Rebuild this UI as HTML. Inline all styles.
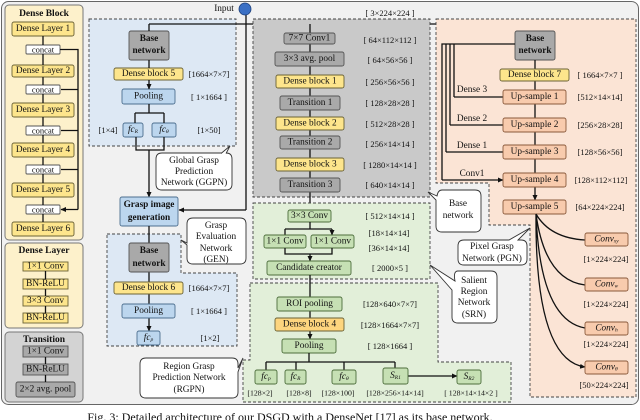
<!DOCTYPE html>
<html><head><meta charset="utf-8"><style>
html,body{margin:0;padding:0;background:#fff;}
svg{display:block;font-family:"Liberation Serif",serif;}
.t{font-size:9.3px;text-anchor:middle;dominant-baseline:central;fill:#111;}
.b{font-weight:bold;}
.l{stroke:#111;stroke-width:1.3;fill:none;}
.dim{font-size:8.5px;text-anchor:middle;dominant-baseline:central;fill:#111;}
.yel{fill:#fde58c;stroke:#6b6236;stroke-width:0.9;}
.gry{fill:#a9a9a9;stroke:#555;stroke-width:0.9;}
.blu{fill:#bcd6ee;stroke:#4d6f8f;stroke-width:0.9;}
.grn{fill:#c6e0b4;stroke:#4d6e3c;stroke-width:0.9;}
.org{fill:#f8cbad;stroke:#8a5a3c;stroke-width:0.9;}
.wht{fill:#fff;stroke:#555;stroke-width:0.9;}
.dash{stroke:#444;stroke-width:0.9;stroke-dasharray:3,2;}
.co{fill:#fff;stroke:#333;stroke-width:0.9;}
</style></head><body>
<svg width="640" height="420" viewBox="0 0 640 420">
<defs><marker id="a" markerWidth="6" markerHeight="6" refX="5" refY="3" orient="auto" markerUnits="userSpaceOnUse"><path d="M0,0.5 L5.5,3 L0,5.5z" fill="#111"/></marker></defs>
<rect x="1.5" y="1.5" width="637" height="403" rx="7" fill="#f1f1f1" stroke="#666" stroke-width="1"/>

<!-- Left panels -->
<rect x="5" y="5" width="78" height="235" rx="4" fill="#fdf1cb" stroke="#777"/>
<text class="t b" x="44" y="14" style="font-size:9.5px">Dense Block</text>
<g>
<rect class="yel" x="12" y="22" width="62" height="14" rx="2"/><text class="t" x="43" y="29">Dense Layer 1</text>
<rect class="wht" x="26" y="45" width="34" height="9" rx="1"/><text class="t" x="43" y="49.5" style="font-size:8.5px">concat</text>
<rect class="yel" x="12" y="65" width="62" height="12" rx="2"/><text class="t" x="43" y="71">Dense Layer 2</text>
<rect class="wht" x="26" y="85" width="34" height="9" rx="1"/><text class="t" x="43" y="89.5" style="font-size:8.5px">concat</text>
<rect class="yel" x="12" y="103" width="62" height="14" rx="2"/><text class="t" x="43" y="110">Dense Layer 3</text>
<rect class="wht" x="26" y="126" width="34" height="9" rx="1"/><text class="t" x="43" y="130.5" style="font-size:8.5px">concat</text>
<rect class="yel" x="12" y="143" width="62" height="14" rx="2"/><text class="t" x="43" y="150">Dense Layer 4</text>
<rect class="wht" x="26" y="165" width="34" height="9" rx="1"/><text class="t" x="43" y="169.5" style="font-size:8.5px">concat</text>
<rect class="yel" x="12" y="183" width="62" height="14" rx="2"/><text class="t" x="43" y="190">Dense Layer 5</text>
<rect class="wht" x="26" y="205" width="34" height="9" rx="1"/><text class="t" x="43" y="209.5" style="font-size:8.5px">concat</text>
<rect class="yel" x="12" y="222" width="62" height="14" rx="2"/><text class="t" x="43" y="229">Dense Layer 6</text>
<path class="l" d="M43,36V45M43,54V65M43,77V85M43,94V103M43,117V126M43,135V143M43,157V165M43,174V183M43,197V205M43,214V222" stroke-width="1"/>
<path class="l" d="M60,49.5H78V209.5" stroke-width="1"/>
<path class="l" marker-end="url(#a)" d="M78,89.5H61M78,130.5H61M78,169.5H61M78,209.5H61" stroke-width="1"/>
</g>
<rect x="5" y="243" width="78" height="85" rx="4" fill="#fdf1cb" stroke="#777"/>
<text class="t b" x="44" y="251" style="font-size:9.5px">Dense Layer</text>
<rect class="yel" x="23" y="262" width="45" height="9"/><text class="t" x="45.5" y="266.5">1×1 Conv</text>
<rect class="yel" x="23" y="279" width="45" height="10"/><text class="t" x="45.5" y="284">BN-ReLU</text>
<rect class="yel" x="23" y="296" width="45" height="10"/><text class="t" x="45.5" y="301">3×3 Conv</text>
<rect class="yel" x="23" y="313" width="45" height="10"/><text class="t" x="45.5" y="318">BN-ReLU</text>
<path class="l" d="M45.5,271V279M45.5,289V296M45.5,306V313" stroke-width="1"/>
<rect x="5" y="332" width="78" height="70" rx="4" fill="#d3d3d3" stroke="#777"/>
<text class="t b" x="44" y="340" style="font-size:9.5px">Transition</text>
<rect class="gry" x="23" y="346" width="45" height="11"/><text class="t" x="45.5" y="351.5">1×1 Conv</text>
<rect class="gry" x="23" y="364" width="45" height="11"/><text class="t" x="45.5" y="369.5">BN-ReLU</text>
<rect class="gry" x="16" y="382" width="59" height="15" rx="2"/><text class="t" x="45.5" y="389.5">2×2 avg. pool</text>
<path class="l" d="M45.5,357V364M45.5,375V382" stroke-width="1"/>

<!-- GGPN region -->
<rect class="dash" x="89" y="19" width="147" height="127" fill="#dde8f4"/>
<rect class="gry" x="129" y="31" width="40" height="29" rx="2"/><text class="t b" x="149" y="39">Base</text><text class="t b" x="149" y="51">network</text>
<rect class="yel" x="114" y="68" width="69" height="12" rx="2"/><text class="t" x="148.5" y="74">Dense block 5</text>
<text class="dim" x="209" y="74">[1664×7×7]</text>
<rect class="blu" x="122" y="89" width="53" height="15" rx="2"/><text class="t" x="148.5" y="96.5">Pooling</text>
<text class="dim" x="209" y="97">[ 1×1664 ]</text>
<rect class="blu" x="123" y="123" width="20" height="14" rx="2"/><text class="t" x="133" y="130" style="font-style:italic">fc<tspan font-size="5.5" dy="2">R</tspan></text>
<rect class="blu" x="152" y="123" width="24" height="14" rx="2"/><text class="t" x="164" y="130" style="font-style:italic">fc<tspan font-size="5.5" dy="2">θ</tspan></text>
<text class="dim" x="108" y="130">[1×4]</text>
<text class="dim" x="209" y="130">[1×50]</text>
<path class="l" d="M149,104V113H135M149,113H164"/>
<path class="l" marker-end="url(#a)" d="M135,113V123M164,113V123M149,60V68M149,80V89"/>
<path class="l" d="M136,137V150H164V137"/>
<path class="l" marker-end="url(#a)" d="M149,150V197"/>
<rect class="blu" x="120" y="197" width="58" height="29" rx="2"/><text class="t b" x="149" y="205">Grasp image</text><text class="t b" x="149" y="218">generation</text>
<path class="co" d="M162,153H226Q232,153 232,159V184Q232,190 226,190H162Q156,190 156,184V159Q156,153 162,153Z"/>
<path d="M221,153.5L230,146L226,153.5" fill="#fff" stroke="#333" stroke-width="0.9"/>
<text class="t" x="194" y="161">Global Grasp</text><text class="t" x="194" y="172">Prediction</text><text class="t" x="194" y="183">Network (GGPN)</text>

<!-- Input -->
<text class="t" x="224" y="9">Input</text>
<path class="l" d="M246,10V210"/>
<path class="l" marker-end="url(#a)" d="M246,210H179"/>
<path class="l" d="M149,24H535"/>
<path class="l" marker-end="url(#a)" d="M149,24V31M535,24V31"/>
<circle cx="245" cy="9" r="6" fill="#3a6fc4" stroke="#1d3f7a" stroke-width="0.8"/>
<text class="dim" x="390" y="13">[ 3×224×224 ]</text>

<!-- GEN region -->
<path class="dash" d="M107,234H181V273H237V346H107Z" fill="#dde8f4"/>
<path class="l" marker-end="url(#a)" d="M149,226V243M149,272V282M149,294V304M149,318V331"/>
<rect class="gry" x="129" y="243" width="40" height="29" rx="2"/><text class="t b" x="149" y="251">Base</text><text class="t b" x="149" y="264">network</text>
<rect class="yel" x="114" y="282" width="69" height="12" rx="2"/><text class="t" x="148.5" y="288">Dense block 6</text>
<text class="dim" x="209" y="288">[1664×7×7]</text>
<rect class="blu" x="122" y="304" width="53" height="14" rx="2"/><text class="t" x="148.5" y="311">Pooling</text>
<text class="dim" x="209" y="311">[ 1×1664 ]</text>
<rect class="blu" x="137" y="331" width="23" height="14" rx="2"/><text class="t" x="148.5" y="338" style="font-style:italic">fc<tspan font-size="5.5" dy="2">p</tspan></text>
<text class="dim" x="210" y="338">[1×2]</text>
<path class="co" d="M193,218H240Q246,218 246,224V258Q246,264 240,264H193Q187,264 187,258V245L181,240L187,243V224Q187,218 193,218Z"/>
<text class="t" x="216" y="226">Grasp</text><text class="t" x="216" y="237">Evaluation</text><text class="t" x="216" y="249">Network</text><text class="t" x="216" y="260">(GEN)</text>

<!-- Middle base network -->
<rect class="dash" x="253" y="19" width="177" height="178" fill="#c9c9c9"/>
<path class="l" marker-end="url(#a)" d="M310,24V33M310,44V52M310,66V75M310,88V96M310,110V117M310,130V136M310,149V158M310,171V178M310,192V210"/>
<rect class="gry" x="284" y="33" width="51" height="11" rx="2"/><text class="t" x="309.5" y="38.5">7×7 Conv1</text>
<rect class="gry" x="275" y="52" width="69" height="14" rx="2"/><text class="t" x="309.5" y="59">3×3 avg. pool</text>
<rect class="yel" x="276" y="75" width="68" height="13" rx="2"/><text class="t" x="310" y="81.5">Dense block 1</text>
<rect class="gry" x="280" y="96" width="60" height="14" rx="2"/><text class="t" x="310" y="103">Transition 1</text>
<rect class="yel" x="276" y="117" width="68" height="13" rx="2"/><text class="t" x="310" y="123.5">Dense block 2</text>
<rect class="gry" x="280" y="136" width="60" height="13" rx="2"/><text class="t" x="310" y="142.5">Transition 2</text>
<rect class="yel" x="276" y="158" width="68" height="13" rx="2"/><text class="t" x="310" y="164.5">Dense block 3</text>
<rect class="gry" x="280" y="178" width="60" height="14" rx="2"/><text class="t" x="310" y="185">Transition 3</text>
<text class="dim" x="390" y="40">[ 64×112×112 ]</text>
<text class="dim" x="390" y="60">[ 64×56×56 ]</text>
<text class="dim" x="390" y="82">[ 256×56×56 ]</text>
<text class="dim" x="390" y="103">[ 128×28×28 ]</text>
<text class="dim" x="390" y="124">[ 512×28×28 ]</text>
<text class="dim" x="390" y="144">[ 256×14×14 ]</text>
<text class="dim" x="390" y="165">[ 1280×14×14 ]</text>
<text class="dim" x="390" y="185">[ 640×14×14 ]</text>

<!-- SRN -->
<rect class="dash" x="253" y="203" width="177" height="76" fill="#e2efd9"/>
<rect class="grn" x="288" y="210" width="43" height="12" rx="2"/><text class="t" x="309.5" y="216">3×3 Conv</text>
<text class="dim" x="390" y="216">[ 512×14×14 ]</text>
<path class="l" d="M310,222V229H285M310,229H332"/>
<path class="l" marker-end="url(#a)" d="M285,229V235M332,229V235"/>
<rect class="grn" x="264" y="235" width="42" height="13" rx="2"/><text class="t" x="285" y="241.5">1×1 Conv</text>
<rect class="grn" x="311" y="235" width="43" height="13" rx="2"/><text class="t" x="332.5" y="241.5">1×1 Conv</text>
<text class="dim" x="389" y="233">[18×14×14]</text>
<text class="dim" x="389" y="248">[36×14×14]</text>
<path class="l" d="M285,248V254H332V248"/>
<path class="l" marker-end="url(#a)" d="M310,254V261"/>
<rect class="grn" x="267" y="261" width="84" height="14" rx="2"/><text class="t" x="309" y="268">Candidate creator</text>
<text class="dim" x="390" y="268">[ 2000×5 ]</text>

<!-- RGPN -->
<path class="dash" d="M250,283H438V362H511V402H243V360H250Z" fill="#e2efd9"/>
<path class="l" marker-end="url(#a)" d="M310,275V297M310,311V318M310,331V339"/>
<rect class="grn" x="277" y="297" width="65" height="14" rx="2"/><text class="t" x="309.5" y="304">ROI pooling</text>
<rect x="275" y="318" width="69" height="13" rx="2" fill="#fdd57e" stroke="#6b6236" stroke-width="0.9"/><text class="t" x="309.5" y="324.5">Dense block 4</text>
<rect class="grn" x="282" y="339" width="54" height="14" rx="2"/><text class="t" x="309" y="346">Pooling</text>
<text class="dim" x="390" y="304">[128×640×7×7]</text>
<text class="dim" x="390" y="325">[128×1664×7×7]</text>
<text class="dim" x="390" y="346">[ 128×1664 ]</text>
<path class="l" d="M309,353V362H266M309,362H395"/>
<path class="l" marker-end="url(#a)" d="M266,362V370M296,362V370M344,362V370M395,362V368M408,376H457"/>
<rect class="grn" x="255" y="370" width="22" height="14" rx="2"/><text class="t" x="266" y="377" style="font-style:italic">fc<tspan font-size="5.5" dy="2">p</tspan></text>
<rect class="grn" x="285" y="370" width="21" height="14" rx="2"/><text class="t" x="295.5" y="377" style="font-style:italic">fc<tspan font-size="5.5" dy="2">R</tspan></text>
<rect class="grn" x="332" y="370" width="24" height="14" rx="2"/><text class="t" x="344" y="377" style="font-style:italic">fc<tspan font-size="5.5" dy="2">θ</tspan></text>
<rect class="grn" x="383" y="368" width="25" height="16" rx="2"/><text class="t" x="395.5" y="376" style="font-style:italic">S<tspan font-size="5.5" dy="2">R1</tspan></text>
<rect class="grn" x="457" y="370" width="24" height="14" rx="2"/><text class="t" x="469" y="377" style="font-style:italic">S<tspan font-size="5.5" dy="2">R2</tspan></text>
<text class="dim" x="260" y="393" style="font-size:7.8px">[128×2]</text>
<text class="dim" x="299" y="393" style="font-size:7.8px">[128×8]</text>
<text class="dim" x="338" y="393" style="font-size:7.8px">[128×100]</text>
<text class="dim" x="395" y="393" style="font-size:7.8px">[128×256×14×14]</text>
<text class="dim" x="471" y="393" style="font-size:7.8px">[ 128×14×14×2 ]</text>
<path class="co" d="M146,358H232Q238,358 238,364V368L243,358L238,372V392Q238,398 232,398H146Q140,398 140,392V364Q140,358 146,358Z"/>
<text class="t" x="189" y="367">Region Grasp</text><text class="t" x="189" y="378">Prediction Network</text><text class="t" x="189" y="390">(RGPN)</text>

<!-- PGN -->
<path class="dash" d="M436,19H636V397H530V225H489V183H436Z" fill="#fbe4d5"/>
<rect class="gry" x="515" y="31" width="40" height="29" rx="2"/><text class="t b" x="535" y="39">Base</text><text class="t b" x="535" y="51">network</text>
<path class="l" d="M515,44H442V180M446,44V152M450,44V125M454,44V97"/>
<path class="l" marker-end="url(#a)" d="M454,97H503M450,125H503M446,152H503M442,180H503"/>
<text class="t" x="472" y="90">Dense 3</text>
<text class="t" x="472" y="119">Dense 2</text>
<text class="t" x="472" y="146">Dense 1</text>
<text class="t" x="472" y="174">Conv1</text>
<path class="l" marker-end="url(#a)" d="M535,60V69M535,81V90M535,104V118M535,132V145M535,159V173M535,187V200"/>
<rect class="yel" x="500" y="69" width="69" height="12" rx="2"/><text class="t" x="534.5" y="75">Dense block 7</text>
<rect class="org" x="503" y="90" width="63" height="14" rx="2"/><text class="t" x="534.5" y="97">Up-sample 1</text>
<rect class="org" x="503" y="118" width="63" height="14" rx="2"/><text class="t" x="534.5" y="125">Up-sample 2</text>
<rect class="org" x="503" y="145" width="63" height="14" rx="2"/><text class="t" x="534.5" y="152">Up-sample 3</text>
<rect class="org" x="503" y="173" width="63" height="14" rx="2"/><text class="t" x="534.5" y="180">Up-sample 4</text>
<rect class="org" x="503" y="200" width="63" height="14" rx="2"/><text class="t" x="534.5" y="207">Up-sample 5</text>
<text class="dim" x="600" y="75">[ 1664×7×7 ]</text>
<text class="dim" x="600" y="97">[512×14×14]</text>
<text class="dim" x="600" y="125">[256×28×28]</text>
<text class="dim" x="600" y="152">[128×56×56]</text>
<text class="dim" x="601" y="180">[128×112×112]</text>
<text class="dim" x="600" y="207">[64×224×224]</text>
<path class="l" marker-end="url(#a)" d="M536,214Q550,238 585,240M536,214Q545,280 585,285M536,214Q540,320 585,328M536,214Q535,360 585,367"/>
<rect class="org" x="585" y="233" width="43" height="13" rx="2"/><text class="t" x="606.5" y="239.5" style="font-style:italic">Conv<tspan font-size="5.5" dy="2">xy</tspan></text>
<rect class="org" x="585" y="278" width="43" height="13" rx="2"/><text class="t" x="606.5" y="284.5" style="font-style:italic">Conv<tspan font-size="5.5" dy="2">w</tspan></text>
<rect class="org" x="585" y="322" width="43" height="13" rx="2"/><text class="t" x="606.5" y="328.5" style="font-style:italic">Conv<tspan font-size="5.5" dy="2">h</tspan></text>
<rect class="org" x="585" y="361" width="43" height="13" rx="2"/><text class="t" x="606.5" y="367.5" style="font-style:italic">Conv<tspan font-size="5.5" dy="2">θ</tspan></text>
<text class="dim" x="606" y="259">[1×224×224]</text>
<text class="dim" x="606" y="304">[1×224×224]</text>
<text class="dim" x="606" y="344">[1×224×224]</text>
<text class="dim" x="604" y="385">[50×224×224]</text>

<!-- callouts right -->
<path class="co" d="M442,190H475Q481,190 481,196V226Q481,232 475,232H442Q436,232 436,226V200L428,192L437,196Q438,190 442,190Z"/>
<text class="t" x="458" y="204">Base</text><text class="t" x="458" y="216">network</text>
<path class="co" d="M464,240H509L530,228L518,240H521Q527,240 527,246V259Q527,265 521,265H464Q458,265 458,259V246Q458,240 464,240Z"/>
<text class="t" x="492" y="247">Pixel Grasp</text><text class="t" x="492" y="259">Network (PGN)</text>
<path class="co" d="M458,271H491Q497,271 497,277V317Q497,323 491,323H458Q452,323 452,317V290L430,265L455,281Q453,271 458,271Z"/>
<text class="t" x="474" y="281">Salient</text><text class="t" x="474" y="292">Region</text><text class="t" x="474" y="303">Network</text><text class="t" x="474" y="315">(SRN)</text>

<text x="290" y="421" style="font-size:12px;text-anchor:middle;fill:#111">Fig. 3: Detailed architecture of our DSGD with a DenseNet [17] as its base network.</text>
</svg>
</body></html>
